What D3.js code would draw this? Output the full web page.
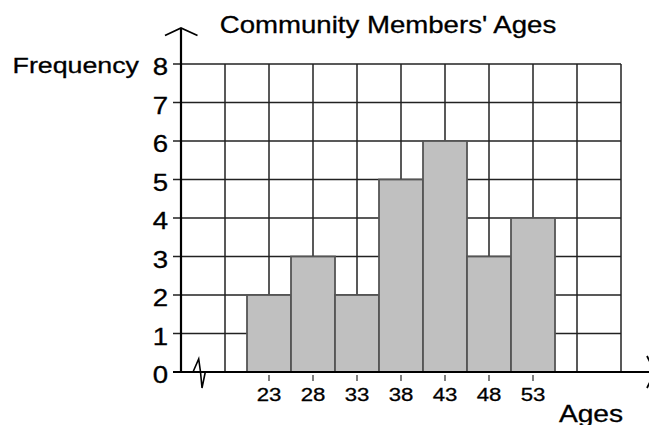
<!DOCTYPE html>
<html><head><meta charset="utf-8">
<script src="https://cdn.jsdelivr.net/npm/d3@7"></script>
<style>html,body{margin:0;padding:0;background:#fff;}svg{display:block;}</style>
</head><body>
<svg id="c" width="649" height="425"></svg>
<script>
const title = "Community Members' Ages";
const xTitle = "Ages";
const yTitle = "Frequency";
const ageLabels = [23, 28, 33, 38, 43, 48, 53];
const frequencies = [2, 3, 2, 5, 6, 3, 4];
const yTicks = [0, 1, 2, 3, 4, 5, 6, 7, 8];
const gridAges = [13, 18, 23, 28, 33, 38, 43, 48, 53, 58, 63];

const svg = d3.select("#c");
const font = "'Liberation Sans', Arial, Helvetica, sans-serif";
const sx = 1.2;

const x = d3.scaleLinear().domain([13, 63]).range([181, 621]);
const y = d3.scaleLinear().domain([0, 8]).range([372, 64]);

function txt(s, px, py, size, anchor) {
  return svg.append("g").attr("transform", `translate(${px},${py}) scale(${sx},1)`)
    .append("text").attr("x", 0).attr("y", 0)
    .attr("font-family", font).attr("font-size", size)
    .attr("stroke", "#000").attr("stroke-width", 0.3)
    .attr("text-anchor", anchor).attr("fill", "#000").text(s);
}

// grid
const grid = svg.append("g");
grid.selectAll("line.h").data(yTicks).join("line")
  .attr("x1", 173).attr("x2", x(63)).attr("y1", d => y(d)).attr("y2", d => y(d))
  .attr("stroke", "#222").attr("stroke-width", 1.5);
grid.selectAll("line.v").data(gridAges.slice(1)).join("line")
  .attr("x1", d => x(d)).attr("x2", d => x(d)).attr("y1", y(8)).attr("y2", y(0))
  .attr("stroke", "#222").attr("stroke-width", 1.5);

// bars
svg.append("g").selectAll("rect").data(ageLabels).join("rect")
  .attr("x", d => x(d - 2.5)).attr("width", d => x(d + 2.5) - x(d - 2.5))
  .attr("y", (d, i) => y(frequencies[i])).attr("height", (d, i) => y(0) - y(frequencies[i]))
  .attr("fill", "#c0c0c0").attr("stroke", "#555").attr("stroke-width", 1.8);

// x ticks
svg.append("g").selectAll("line").data(ageLabels).join("line")
  .attr("x1", d => x(d)).attr("x2", d => x(d)).attr("y1", 375).attr("y2", 381)
  .attr("stroke", "#555").attr("stroke-width", 1.5);

// axes
svg.append("line").attr("x1", 173).attr("x2", 656).attr("y1", y(0)).attr("y2", y(0))
  .attr("stroke", "#000").attr("stroke-width", 2.2);
svg.append("line").attr("x1", 181).attr("x2", 181).attr("y1", y(0)).attr("y2", 28)
  .attr("stroke", "#000").attr("stroke-width", 2.2);
svg.append("polyline").attr("points", "165,35.5 181,28 197.5,35.5")
  .attr("fill", "none").attr("stroke", "#000").attr("stroke-width", 1.8);
svg.append("polyline").attr("points", "647,356 655,372 647,388")
  .attr("fill", "none").attr("stroke", "#000").attr("stroke-width", 1.8);
// break symbol
svg.append("polyline").attr("points", "193,372 198.7,359 200.5,372 202,388 205.3,372")
  .attr("fill", "none").attr("stroke", "#000").attr("stroke-width", 1.6);

// labels
yTicks.forEach(t => txt(String(t), 168, y(t) + 11, 23, "end"));
ageLabels.forEach(a => txt(String(a), x(a), 400.5, 18.5, "middle"));
txt(title, 388, 33, 23, "middle");
txt(yTitle, 139, 72.5, 22.3, "end");
txt(xTitle, 591, 421.5, 23.5, "middle");
</script>
</body></html>
